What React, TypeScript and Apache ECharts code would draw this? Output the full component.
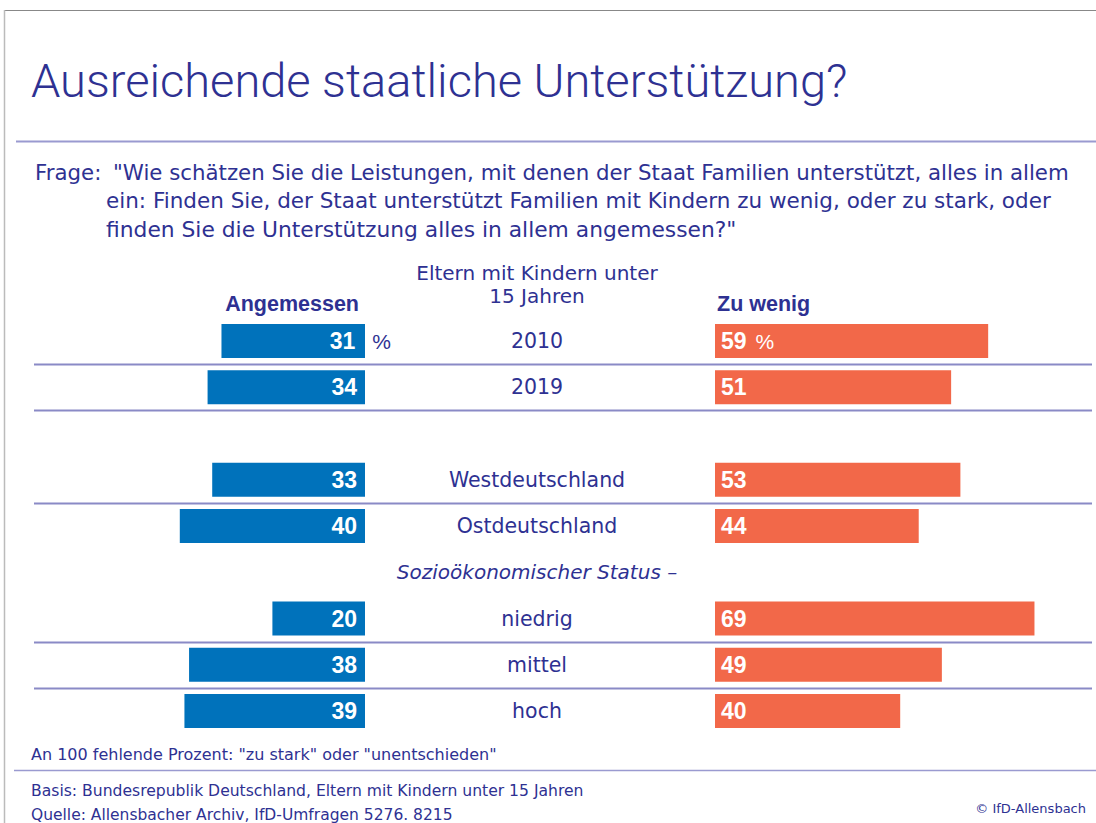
import React, { useEffect, useRef } from "react";
import * as echarts from "echarts";

const categories = [
  "2010",
  "2019",
  "",
  "Westdeutschland",
  "Ostdeutschland",
  "Sozioökonomischer Status –",
  "niedrig",
  "mittel",
  "hoch",
];
const angemessen: (number | null)[] = [31, 34, null, 33, 40, null, 20, 38, 39];
const zuWenig: (number | null)[] = [59, 51, null, 53, 44, null, 69, 49, 40];
const separatorAfter = [0, 1, 3, 6, 7];

const TITLE = "Ausreichende staatliche Unterstützung?";
const QUESTION_LINES = [
  '"Wie schätzen Sie die Leistungen, mit denen der Staat Familien unterstützt, alles in allem',
  "ein: Finden Sie, der Staat unterstützt Familien mit Kindern zu wenig, oder zu stark, oder",
  'finden Sie die Unterstützung alles in allem angemessen?"',
];
const HEADER_CENTER = ["Eltern mit Kindern unter", "15 Jahren"];
const HEADER_LEFT = "Angemessen";
const HEADER_RIGHT = "Zu wenig";
const NOTE = 'An 100 fehlende Prozent: "zu stark" oder "unentschieden"';
const BASIS = "Basis: Bundesrepublik Deutschland, Eltern mit Kindern unter 15 Jahren";
const SOURCE = "Quelle: Allensbacher Archiv, IfD-Umfragen 5276. 8215";
const COPYRIGHT = "© IfD-Allensbach";

const W = 1096;
const H = 823;
const TEXT = "#2e3192";
const BLUE = "#0072bb";
const ORANGE = "#f26849";
const LINE = "#8a8ac6";
const FONT = '"Liberation Sans", Arial, sans-serif';
const BODY = '"DejaVu Sans", Verdana, sans-serif';

const PX = 4.63;
const LEFT_END = 365;
const LEFT_MAX = 60;
const RIGHT_START = 715;
const RIGHT_MAX = 80;
const SLOT = 46.25;
const GRID_TOP = 341 - SLOT / 2;
const GRID_H = SLOT * categories.length;
const CENTER_X = 537;

export default function App() {
  const ref = useRef<HTMLDivElement>(null);
  useEffect(() => {
    if (!ref.current) return;
    const chart = echarts.init(ref.current, undefined, { renderer: "svg" });

    const leftData = angemessen.map((v, i) =>
      v == null
        ? "-"
        : i === 0
        ? {
            value: v,
            label: {
              formatter: "{v|{c}}{p|%}",
              offset: [34, 0],
            },
          }
        : v
    );
    const rightData = zuWenig.map((v, i) =>
      v == null
        ? "-"
        : i === 0
        ? { value: v, label: { formatter: "{v|{c}}{q|%}" } }
        : v
    );

    const numLabel = {
      show: true,
      color: "#fff",
      fontWeight: "bold" as const,
      fontSize: 23,
      fontFamily: FONT,
      rich: {
        v: { color: "#fff", fontWeight: "bold", fontSize: 23, fontFamily: FONT },
        p: {
          color: TEXT,
          fontWeight: "normal",
          fontSize: 21,
          fontFamily: FONT,
          padding: [0, 0, 0, 17],
        },
        q: {
          color: "#fff",
          fontWeight: "normal",
          fontSize: 21,
          fontFamily: FONT,
          padding: [0, 0, 0, 9],
        },
      },
    };

    const lines = separatorAfter.map((k) => {
      const y = Math.round(GRID_TOP + SLOT * (k + 1)) + 0.5;
      return {
        type: "line",
        shape: { x1: 34, y1: y, x2: 1092, y2: y },
        style: { stroke: LINE, lineWidth: 2 },
        silent: true,
      };
    });

    const txt = (
      text: string,
      x: number,
      y: number,
      size: number,
      extra: any = {}
    ) => ({
      type: "text",
      x,
      y,
      silent: true,
      style: {
        text,
        fill: TEXT,
        font: `${extra.weight || "normal"} ${size}px ${extra.family || BODY}`,
        textAlign: extra.align || "left",
        textVerticalAlign: "middle",
      },
    });

    const graphic: any[] = [
      // frame
      { type: "line", shape: { x1: 4, y1: 10.5, x2: W, y2: 10.5 }, style: { stroke: "#888", lineWidth: 1 }, silent: true },
      { type: "line", shape: { x1: 4.5, y1: 10, x2: 4.5, y2: H }, style: { stroke: "#bbb", lineWidth: 1.5 }, silent: true },
      // title
      {
        type: "text",
        x: 31,
        y: 80,
        silent: true,
        style: {
          text: TITLE,
          fill: TEXT,
          font: `300 47px Roboto, ${FONT}`,
          textAlign: "left",
          textVerticalAlign: "middle",
        },
      },
      { type: "line", shape: { x1: 16, y1: 141.5, x2: W, y2: 141.5 }, style: { stroke: "#9a9ad0", lineWidth: 2 }, silent: true },
      // question
      txt("Frage:", 35, 172, 21.3),
      txt(QUESTION_LINES[0], 113, 172, 21.3),
      txt(QUESTION_LINES[1], 106, 200, 21.5),
      txt(QUESTION_LINES[2], 106, 229, 21.8),
      // headers
      txt(HEADER_CENTER[0], CENTER_X, 273, 20, { align: "center" }),
      txt(HEADER_CENTER[1], CENTER_X, 296, 20, { align: "center" }),
      txt(HEADER_LEFT, 359, 304, 21.5, { align: "right", weight: "bold", family: FONT }),
      txt(HEADER_RIGHT, 717, 304, 21.5, { weight: "bold", family: FONT }),
      ...lines,
      // footer
      txt(NOTE, 31, 754, 16),
      { type: "line", shape: { x1: 14, y1: 770.5, x2: W, y2: 770.5 }, style: { stroke: "#9a9ad0", lineWidth: 1.5 }, silent: true },
      txt(BASIS, 31, 791, 15.6),
      txt(SOURCE, 31, 815, 15.5),
      txt(COPYRIGHT, 1086, 808, 13, { align: "right" }),
    ];

    chart.setOption({
      animation: false,
      backgroundColor: "#fff",
      grid: [
        {
          left: LEFT_END - LEFT_MAX * PX,
          width: LEFT_MAX * PX,
          top: GRID_TOP,
          height: GRID_H,
        },
        {
          left: RIGHT_START,
          width: RIGHT_MAX * PX,
          top: GRID_TOP,
          height: GRID_H,
        },
      ],
      xAxis: [
        { gridIndex: 0, type: "value", min: 0, max: LEFT_MAX, inverse: true, show: false },
        { gridIndex: 1, type: "value", min: 0, max: RIGHT_MAX, show: false },
      ],
      yAxis: [
        {
          gridIndex: 0,
          type: "category",
          data: categories,
          inverse: true,
          show: false,
        },
        {
          gridIndex: 1,
          type: "category",
          data: categories,
          inverse: true,
          position: "left",
          axisLine: { show: false },
          axisTick: { show: false },
          splitLine: { show: false },
          axisLabel: {
            show: true,
            margin: RIGHT_START - CENTER_X,
            align: "center",
            color: TEXT,
            fontSize: 20.5,
            fontFamily: BODY,
            formatter: (v: string) => (v.startsWith("Sozio") ? `{i|${v}}` : v),
            rich: {
              i: { fontStyle: "italic", color: TEXT, fontSize: 20, fontFamily: BODY },
            },
          },
        },
      ],
      series: [
        {
          name: HEADER_LEFT,
          type: "bar",
          xAxisIndex: 0,
          yAxisIndex: 0,
          data: leftData,
          barWidth: 34,
          itemStyle: { color: BLUE },
          label: { ...numLabel, position: "insideRight", distance: 8 },
        },
        {
          name: HEADER_RIGHT,
          type: "bar",
          xAxisIndex: 1,
          yAxisIndex: 1,
          data: rightData,
          barWidth: 34,
          itemStyle: { color: ORANGE },
          label: { ...numLabel, position: "insideLeft", distance: 6 },
        },
      ],
      graphic,
    });
    return () => chart.dispose();
  }, []);
  return (
    <div
      ref={ref}
      style={{ position: "fixed", left: 0, top: 0, width: W, height: H }}
    />
  );
}
